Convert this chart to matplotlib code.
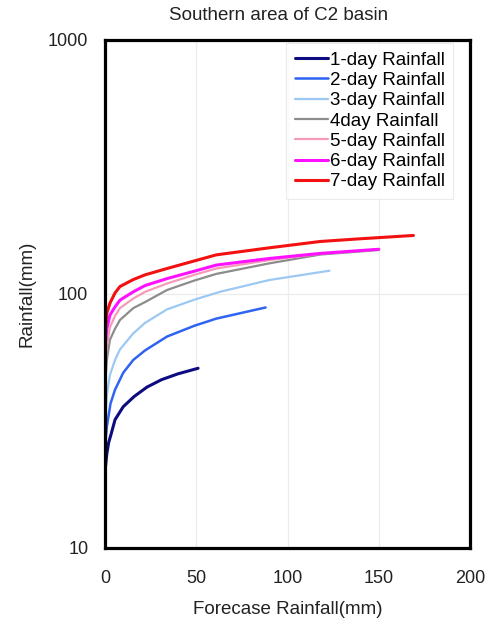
import matplotlib
matplotlib.use("Agg")
import matplotlib.pyplot as plt
from matplotlib.ticker import FixedLocator, FixedFormatter, NullLocator

plt.rcParams['font.family'] = ['Liberation Sans', 'DejaVu Sans']

# values
labels = ['1-day Rainfall', '2-day Rainfall', '3-day Rainfall', '4day Rainfall',
          '5-day Rainfall', '6-day Rainfall', '7-day Rainfall']
colors = ['#0c0c80', '#2f64f2', '#9cc8f4', '#8c8c8c', '#f59ab8', '#ff10ff', '#f21010']
widths = [2.2, 1.8, 1.6, 1.6, 1.6, 2.2, 2.2]

x1 = [0, 1, 2, 3.3, 5.5, 10, 16, 23, 31, 40, 51]
y1 = [20, 23.5, 26, 28, 32, 36, 39.5, 43, 46, 48.5, 51]
x2 = [0, 1, 3, 5.5, 10, 15.5, 22, 34, 49, 61, 88]
y2 = [25, 30, 37, 42, 49, 55, 60, 68, 75, 80, 88.5]
x3 = [0, 1, 2.7, 5.5, 8.2, 15.5, 22, 34, 49, 63, 90, 123]
y3 = [32, 40, 48, 55, 60.5, 70, 77, 87, 95, 102, 113.5, 123.5]
x4 = [0, 1, 2.7, 5.5, 8.2, 15.5, 22, 34, 49, 61, 90, 118, 150]
y4 = [43, 55, 66, 73, 79, 88, 93, 103.7, 113, 120, 132, 143, 149]
x5 = [0, 1, 2.7, 5.5, 8.2, 15.5, 22, 34, 49, 61, 90, 118, 150]
y5 = [50, 62, 74, 82, 88, 96, 102, 110, 119, 126, 136, 144, 150]
x6 = [0, 1, 2.7, 5.5, 8.2, 15.5, 22, 34, 49, 61, 90, 118, 150]
y6 = [62, 73, 82.6, 89, 94.6, 102, 108, 115, 123, 130, 138, 144.5, 150]
x7 = [0, 1, 2.7, 5.5, 8.2, 15.5, 22, 34, 49, 61, 90, 118, 140, 169]
y7 = [70, 84, 92, 101, 107, 114, 119, 126, 135, 142.6, 152, 161, 165, 170]

xs = [x1, x2, x3, x4, x5, x6, x7]
ys = [y1, y2, y3, y4, y5, y6, y7]

xticks = [0, 50, 100, 150, 200]
yticks = [10, 100, 1000]

fig = plt.figure(figsize=(4.92, 6.21), dpi=100)
ax = fig.add_axes([105/492, 73/621, 365/492, 508/621])

for x, y, c, w, lab in zip(xs, ys, colors, widths, labels):
    ax.plot(x, y, color=c, lw=w, label=lab, solid_capstyle='round')

ax.set_yscale('log')
ax.set_xlim(0, 200)
ax.set_ylim(10, 1000)
ax.xaxis.set_major_locator(FixedLocator(xticks))
ax.yaxis.set_major_locator(FixedLocator(yticks))
ax.yaxis.set_major_formatter(FixedFormatter([str(v) for v in yticks]))
ax.yaxis.set_minor_locator(NullLocator())
ax.tick_params(length=0, labelsize=13, colors='#222222')
ax.tick_params(axis='x', pad=16)
ax.tick_params(axis='y', pad=12)
ax.grid(True, color='#ececec', lw=0.9)
ax.set_axisbelow(True)
for s in ax.spines.values():
    s.set_linewidth(2.3)
    s.set_color('black')

ax.set_xlabel('Forecase Rainfall(mm)', fontsize=13.5, color='#222222', labelpad=10)
ax.set_ylabel('Rainfall(mm)', fontsize=13.5, color='#222222', labelpad=9)
fig.text(279/492, 1 - 15/621, 'Southern area of C2 basin', fontsize=13.5,
         ha='center', va='center', color='#222222')

leg = ax.legend(loc='upper right', bbox_to_anchor=(453/492, 1 - 43/621),
                bbox_transform=fig.transFigure, fontsize=13.5, frameon=True,
                fancybox=False, edgecolor='#e6e6e6', handlelength=1.75,
                handletextpad=0.1, labelspacing=0.17, borderpad=0.45,
                borderaxespad=0)
leg.get_frame().set_linewidth(0.8)

fig.savefig('out.png', dpi=100)
